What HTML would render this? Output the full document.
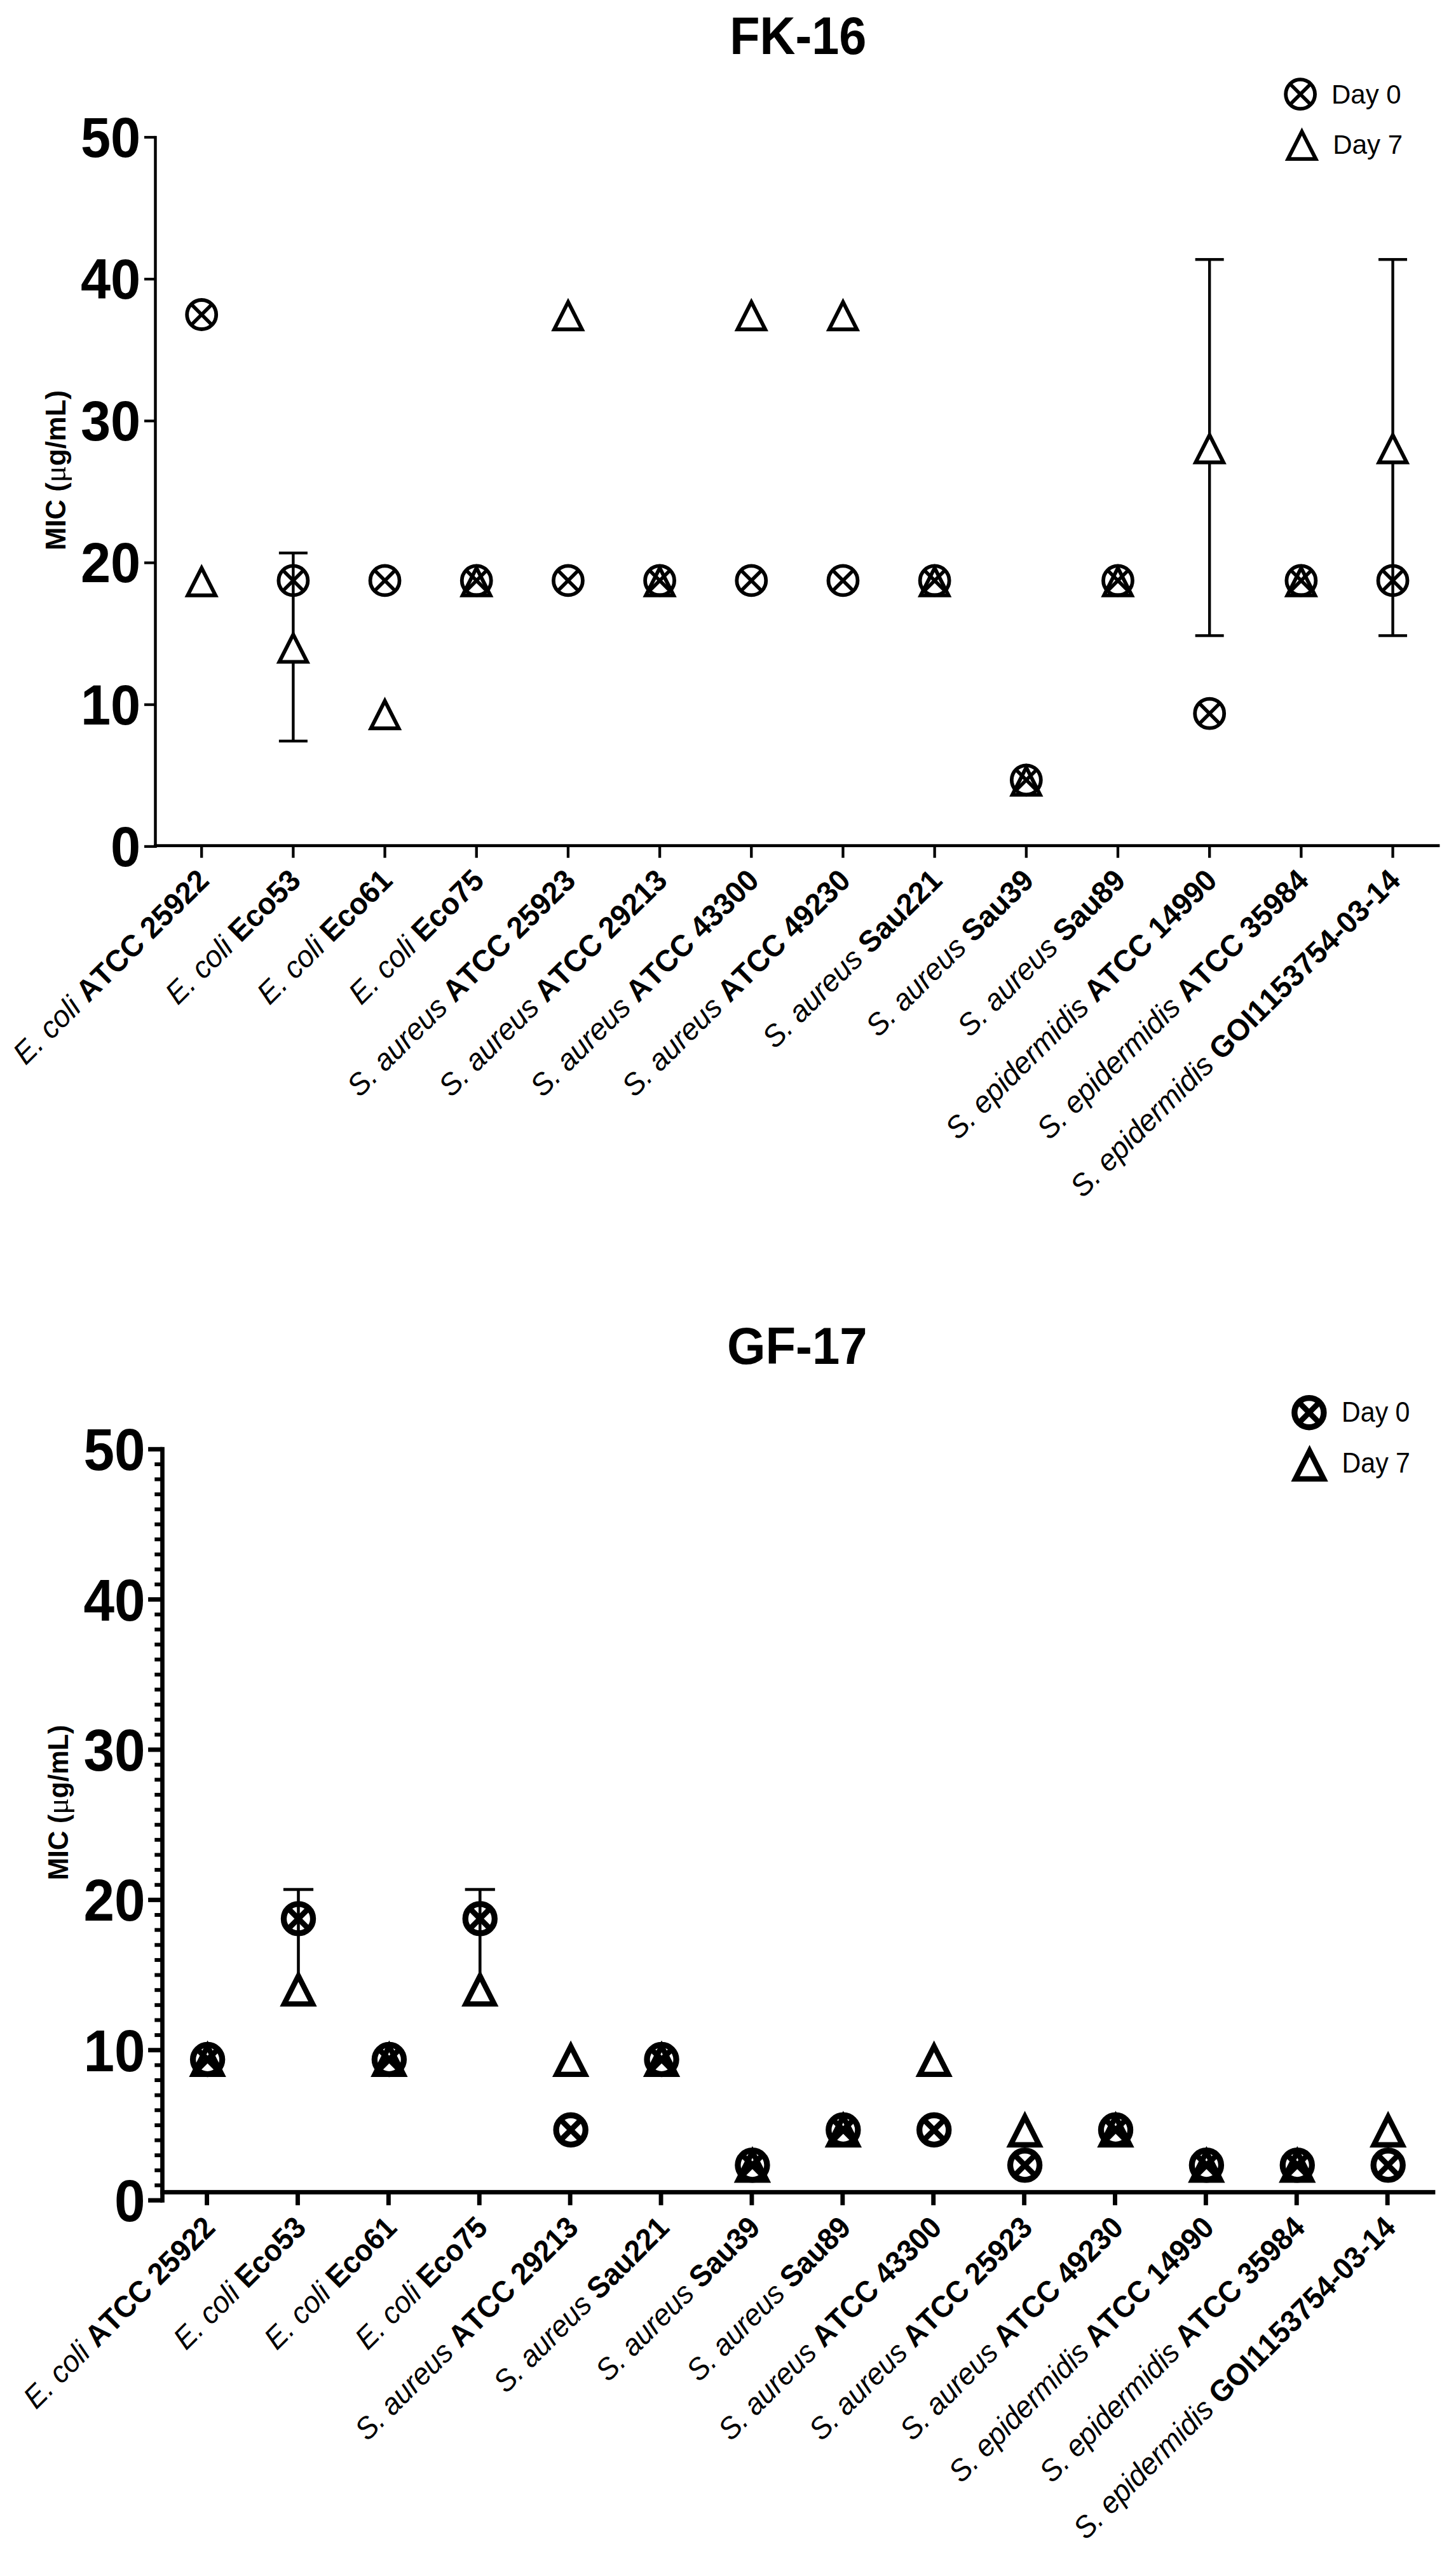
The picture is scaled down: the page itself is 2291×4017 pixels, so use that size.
<!DOCTYPE html>
<html><head><meta charset="utf-8"><title>MIC FK-16 / GF-17</title>
<style>html,body{margin:0;padding:0;background:#fff;}body{width:2291px;height:4017px;overflow:hidden;}svg{display:block;}text{font-kerning:none;}</style></head>
<body>
<svg width="2291" height="4017" viewBox="0 0 2291 4017" font-family='"Liberation Sans", sans-serif' fill="#000">
<rect x="242.25" y="213.90" width="4.50" height="1120.10" fill="#000"/>
<rect x="227.00" y="1329.80" width="17.50" height="4.20" fill="#000"/>
<text transform="translate(221.20 1362.80) scale(0.9820 1.0410)" font-size="86.30" text-anchor="end" font-weight="bold">0</text>
<rect x="227.00" y="1106.62" width="17.50" height="4.20" fill="#000"/>
<text transform="translate(221.20 1139.62) scale(0.9820 1.0410)" font-size="86.30" text-anchor="end" font-weight="bold">10</text>
<rect x="227.00" y="883.44" width="17.50" height="4.20" fill="#000"/>
<text transform="translate(221.20 916.44) scale(0.9820 1.0410)" font-size="86.30" text-anchor="end" font-weight="bold">20</text>
<rect x="227.00" y="660.26" width="17.50" height="4.20" fill="#000"/>
<text transform="translate(221.20 693.26) scale(0.9820 1.0410)" font-size="86.30" text-anchor="end" font-weight="bold">30</text>
<rect x="227.00" y="437.08" width="17.50" height="4.20" fill="#000"/>
<text transform="translate(221.20 470.08) scale(0.9820 1.0410)" font-size="86.30" text-anchor="end" font-weight="bold">40</text>
<rect x="227.00" y="213.90" width="17.50" height="4.20" fill="#000"/>
<text transform="translate(221.20 246.90) scale(0.9820 1.0410)" font-size="86.30" text-anchor="end" font-weight="bold">50</text>
<rect x="242.25" y="1328.25" width="2023.15" height="4.70" fill="#000"/>
<rect x="315.05" y="1330.60" width="4.30" height="19.10" fill="#000"/>
<text transform="translate(331.70 1388.30) rotate(-44.75) scale(1.0095 1.0410)" font-size="46.00" text-anchor="end"><tspan font-style="italic">E. coli</tspan> <tspan font-weight="bold">ATCC 25922</tspan></text>
<rect x="459.23" y="1330.60" width="4.30" height="19.10" fill="#000"/>
<text transform="translate(475.88 1388.30) rotate(-44.75) scale(1.0095 1.0410)" font-size="46.00" text-anchor="end"><tspan font-style="italic">E. coli</tspan> <tspan font-weight="bold">Eco53</tspan></text>
<rect x="603.41" y="1330.60" width="4.30" height="19.10" fill="#000"/>
<text transform="translate(620.06 1388.30) rotate(-44.75) scale(1.0095 1.0410)" font-size="46.00" text-anchor="end"><tspan font-style="italic">E. coli</tspan> <tspan font-weight="bold">Eco61</tspan></text>
<rect x="747.59" y="1330.60" width="4.30" height="19.10" fill="#000"/>
<text transform="translate(764.24 1388.30) rotate(-44.75) scale(1.0095 1.0410)" font-size="46.00" text-anchor="end"><tspan font-style="italic">E. coli</tspan> <tspan font-weight="bold">Eco75</tspan></text>
<rect x="891.77" y="1330.60" width="4.30" height="19.10" fill="#000"/>
<text transform="translate(908.42 1388.30) rotate(-44.75) scale(1.0095 1.0410)" font-size="46.00" text-anchor="end"><tspan font-style="italic">S. aureus</tspan> <tspan font-weight="bold">ATCC 25923</tspan></text>
<rect x="1035.95" y="1330.60" width="4.30" height="19.10" fill="#000"/>
<text transform="translate(1052.60 1388.30) rotate(-44.75) scale(1.0095 1.0410)" font-size="46.00" text-anchor="end"><tspan font-style="italic">S. aureus</tspan> <tspan font-weight="bold">ATCC 29213</tspan></text>
<rect x="1180.13" y="1330.60" width="4.30" height="19.10" fill="#000"/>
<text transform="translate(1196.78 1388.30) rotate(-44.75) scale(1.0095 1.0410)" font-size="46.00" text-anchor="end"><tspan font-style="italic">S. aureus</tspan> <tspan font-weight="bold">ATCC 43300</tspan></text>
<rect x="1324.31" y="1330.60" width="4.30" height="19.10" fill="#000"/>
<text transform="translate(1340.96 1388.30) rotate(-44.75) scale(1.0095 1.0410)" font-size="46.00" text-anchor="end"><tspan font-style="italic">S. aureus</tspan> <tspan font-weight="bold">ATCC 49230</tspan></text>
<rect x="1468.49" y="1330.60" width="4.30" height="19.10" fill="#000"/>
<text transform="translate(1485.14 1388.30) rotate(-44.75) scale(1.0095 1.0410)" font-size="46.00" text-anchor="end"><tspan font-style="italic">S. aureus</tspan> <tspan font-weight="bold">Sau221</tspan></text>
<rect x="1612.67" y="1330.60" width="4.30" height="19.10" fill="#000"/>
<text transform="translate(1629.32 1388.30) rotate(-44.75) scale(1.0095 1.0410)" font-size="46.00" text-anchor="end"><tspan font-style="italic">S. aureus</tspan> <tspan font-weight="bold">Sau39</tspan></text>
<rect x="1756.85" y="1330.60" width="4.30" height="19.10" fill="#000"/>
<text transform="translate(1773.50 1388.30) rotate(-44.75) scale(1.0095 1.0410)" font-size="46.00" text-anchor="end"><tspan font-style="italic">S. aureus</tspan> <tspan font-weight="bold">Sau89</tspan></text>
<rect x="1901.03" y="1330.60" width="4.30" height="19.10" fill="#000"/>
<text transform="translate(1917.68 1388.30) rotate(-44.75) scale(1.0095 1.0410)" font-size="46.00" text-anchor="end"><tspan font-style="italic">S. epidermidis</tspan> <tspan font-weight="bold">ATCC 14990</tspan></text>
<rect x="2045.21" y="1330.60" width="4.30" height="19.10" fill="#000"/>
<text transform="translate(2061.86 1388.30) rotate(-44.75) scale(1.0095 1.0410)" font-size="46.00" text-anchor="end"><tspan font-style="italic">S. epidermidis</tspan> <tspan font-weight="bold">ATCC 35984</tspan></text>
<rect x="2189.39" y="1330.60" width="4.30" height="19.10" fill="#000"/>
<text transform="translate(2206.04 1388.30) rotate(-44.75) scale(1.0095 1.0410)" font-size="46.00" text-anchor="end"><tspan font-style="italic">S. epidermidis</tspan> <tspan font-weight="bold">GOI1153754-03-14</tspan></text>
<text transform="translate(1255.75 85.20) scale(0.9695 1.0410)" font-size="79.90" text-anchor="middle" font-weight="bold">FK-16</text>
<text transform="translate(103.00 740.00) rotate(-90)" font-size="43.70" text-anchor="middle" font-weight="bold">MIC (<tspan font-weight="normal" font-size="48.94" font-family="&quot;Liberation Serif&quot;, serif">&#956;</tspan>g/mL)</text>
<circle cx="2046.10" cy="148.20" r="23.00" fill="none" stroke="#000" stroke-width="5.80"/><path d="M2029.84 131.94L2062.36 164.46M2029.84 164.46L2062.36 131.94" stroke="#000" stroke-width="5.60" fill="none"/>
<polygon points="2048.50,207.02 2070.39,250.15 2026.61,250.15" fill="none" stroke="#000" stroke-width="5.90" stroke-linejoin="miter" stroke-miterlimit="10"/>
<text transform="translate(2095.00 163.20)" font-size="42.00" text-anchor="start">Day 0</text>
<text transform="translate(2097.30 241.80)" font-size="42.00" text-anchor="start">Day 7</text>
<circle cx="317.20" cy="494.98" r="23.00" fill="none" stroke="#000" stroke-width="5.80"/><path d="M300.94 478.71L333.46 511.24M300.94 511.24L333.46 478.71" stroke="#000" stroke-width="5.60" fill="none"/>
<circle cx="461.38" cy="913.44" r="23.00" fill="none" stroke="#000" stroke-width="5.80"/><path d="M445.12 897.17L477.64 929.70M445.12 929.70L477.64 897.17" stroke="#000" stroke-width="5.60" fill="none"/>
<circle cx="605.56" cy="913.44" r="23.00" fill="none" stroke="#000" stroke-width="5.80"/><path d="M589.30 897.17L621.82 929.70M589.30 929.70L621.82 897.17" stroke="#000" stroke-width="5.60" fill="none"/>
<circle cx="749.74" cy="913.44" r="23.00" fill="none" stroke="#000" stroke-width="5.80"/><path d="M733.48 897.17L766.00 929.70M733.48 929.70L766.00 897.17" stroke="#000" stroke-width="5.60" fill="none"/>
<circle cx="893.92" cy="913.44" r="23.00" fill="none" stroke="#000" stroke-width="5.80"/><path d="M877.66 897.17L910.18 929.70M877.66 929.70L910.18 897.17" stroke="#000" stroke-width="5.60" fill="none"/>
<circle cx="1038.10" cy="913.44" r="23.00" fill="none" stroke="#000" stroke-width="5.80"/><path d="M1021.84 897.17L1054.36 929.70M1021.84 929.70L1054.36 897.17" stroke="#000" stroke-width="5.60" fill="none"/>
<circle cx="1182.28" cy="913.44" r="23.00" fill="none" stroke="#000" stroke-width="5.80"/><path d="M1166.02 897.17L1198.54 929.70M1166.02 929.70L1198.54 897.17" stroke="#000" stroke-width="5.60" fill="none"/>
<circle cx="1326.46" cy="913.44" r="23.00" fill="none" stroke="#000" stroke-width="5.80"/><path d="M1310.20 897.17L1342.72 929.70M1310.20 929.70L1342.72 897.17" stroke="#000" stroke-width="5.60" fill="none"/>
<circle cx="1470.64" cy="913.44" r="23.00" fill="none" stroke="#000" stroke-width="5.80"/><path d="M1454.38 897.17L1486.90 929.70M1454.38 929.70L1486.90 897.17" stroke="#000" stroke-width="5.60" fill="none"/>
<circle cx="1614.82" cy="1227.28" r="23.00" fill="none" stroke="#000" stroke-width="5.80"/><path d="M1598.56 1211.02L1631.08 1243.55M1598.56 1243.55L1631.08 1211.02" stroke="#000" stroke-width="5.60" fill="none"/>
<circle cx="1759.00" cy="913.44" r="23.00" fill="none" stroke="#000" stroke-width="5.80"/><path d="M1742.74 897.17L1775.26 929.70M1742.74 929.70L1775.26 897.17" stroke="#000" stroke-width="5.60" fill="none"/>
<circle cx="1903.18" cy="1122.67" r="23.00" fill="none" stroke="#000" stroke-width="5.80"/><path d="M1886.92 1106.41L1919.44 1138.93M1886.92 1138.93L1919.44 1106.41" stroke="#000" stroke-width="5.60" fill="none"/>
<circle cx="2047.36" cy="913.44" r="23.00" fill="none" stroke="#000" stroke-width="5.80"/><path d="M2031.10 897.17L2063.62 929.70M2031.10 929.70L2063.62 897.17" stroke="#000" stroke-width="5.60" fill="none"/>
<circle cx="2191.54" cy="913.44" r="23.00" fill="none" stroke="#000" stroke-width="5.80"/><path d="M2175.28 897.17L2207.80 929.70M2175.28 929.70L2207.80 897.17" stroke="#000" stroke-width="5.60" fill="none"/>
<polygon points="317.20,893.65 339.09,936.79 295.31,936.79" fill="none" stroke="#000" stroke-width="5.90" stroke-linejoin="miter" stroke-miterlimit="10"/>
<rect x="459.18" y="870.08" width="4.40" height="131.11" fill="#000"/>
<rect x="438.88" y="867.88" width="45.00" height="4.40" fill="#000"/>
<rect x="459.18" y="1043.35" width="4.40" height="122.67" fill="#000"/>
<rect x="438.88" y="1163.82" width="45.00" height="4.40" fill="#000"/>
<polygon points="461.38,998.27 483.27,1041.40 439.49,1041.40" fill="none" stroke="#000" stroke-width="5.90" stroke-linejoin="miter" stroke-miterlimit="10"/>
<polygon points="605.56,1102.89 627.45,1146.02 583.67,1146.02" fill="none" stroke="#000" stroke-width="5.90" stroke-linejoin="miter" stroke-miterlimit="10"/>
<polygon points="749.74,893.65 771.63,936.79 727.85,936.79" fill="none" stroke="#000" stroke-width="5.90" stroke-linejoin="miter" stroke-miterlimit="10"/>
<polygon points="893.92,475.19 915.81,518.32 872.03,518.32" fill="none" stroke="#000" stroke-width="5.90" stroke-linejoin="miter" stroke-miterlimit="10"/>
<polygon points="1038.10,893.65 1059.99,936.79 1016.21,936.79" fill="none" stroke="#000" stroke-width="5.90" stroke-linejoin="miter" stroke-miterlimit="10"/>
<polygon points="1182.28,475.19 1204.17,518.32 1160.39,518.32" fill="none" stroke="#000" stroke-width="5.90" stroke-linejoin="miter" stroke-miterlimit="10"/>
<polygon points="1326.46,475.19 1348.35,518.32 1304.57,518.32" fill="none" stroke="#000" stroke-width="5.90" stroke-linejoin="miter" stroke-miterlimit="10"/>
<polygon points="1470.64,893.65 1492.53,936.79 1448.75,936.79" fill="none" stroke="#000" stroke-width="5.90" stroke-linejoin="miter" stroke-miterlimit="10"/>
<polygon points="1614.82,1207.50 1636.71,1250.63 1592.93,1250.63" fill="none" stroke="#000" stroke-width="5.90" stroke-linejoin="miter" stroke-miterlimit="10"/>
<polygon points="1759.00,893.65 1780.89,936.79 1737.11,936.79" fill="none" stroke="#000" stroke-width="5.90" stroke-linejoin="miter" stroke-miterlimit="10"/>
<rect x="1900.98" y="408.27" width="4.40" height="279.08" fill="#000"/>
<rect x="1880.68" y="406.07" width="45.00" height="4.40" fill="#000"/>
<rect x="1900.98" y="729.51" width="4.40" height="270.64" fill="#000"/>
<rect x="1880.68" y="997.94" width="45.00" height="4.40" fill="#000"/>
<polygon points="1903.18,684.42 1925.07,727.56 1881.29,727.56" fill="none" stroke="#000" stroke-width="5.90" stroke-linejoin="miter" stroke-miterlimit="10"/>
<polygon points="2047.36,893.65 2069.25,936.79 2025.47,936.79" fill="none" stroke="#000" stroke-width="5.90" stroke-linejoin="miter" stroke-miterlimit="10"/>
<rect x="2189.34" y="408.27" width="4.40" height="279.08" fill="#000"/>
<rect x="2169.04" y="406.07" width="45.00" height="4.40" fill="#000"/>
<rect x="2189.34" y="729.51" width="4.40" height="270.64" fill="#000"/>
<rect x="2169.04" y="997.94" width="45.00" height="4.40" fill="#000"/>
<polygon points="2191.54,684.42 2213.43,727.56 2169.65,727.56" fill="none" stroke="#000" stroke-width="5.90" stroke-linejoin="miter" stroke-miterlimit="10"/>
<rect x="252.15" y="2276.80" width="6.70" height="1188.80" fill="#000"/>
<rect x="233.10" y="3458.60" width="22.40" height="7.00" fill="#000"/>
<text transform="translate(228.70 3495.10) scale(0.9850 1.0410)" font-size="88.70" text-anchor="end" font-weight="bold">0</text>
<rect x="233.10" y="3222.24" width="22.40" height="7.00" fill="#000"/>
<text transform="translate(228.70 3258.74) scale(0.9850 1.0410)" font-size="88.70" text-anchor="end" font-weight="bold">10</text>
<rect x="233.10" y="2985.88" width="22.40" height="7.00" fill="#000"/>
<text transform="translate(228.70 3022.38) scale(0.9850 1.0410)" font-size="88.70" text-anchor="end" font-weight="bold">20</text>
<rect x="233.10" y="2749.52" width="22.40" height="7.00" fill="#000"/>
<text transform="translate(228.70 2786.02) scale(0.9850 1.0410)" font-size="88.70" text-anchor="end" font-weight="bold">30</text>
<rect x="233.10" y="2513.16" width="22.40" height="7.00" fill="#000"/>
<text transform="translate(228.70 2549.66) scale(0.9850 1.0410)" font-size="88.70" text-anchor="end" font-weight="bold">40</text>
<rect x="233.10" y="2276.80" width="22.40" height="7.00" fill="#000"/>
<text transform="translate(228.70 2313.30) scale(0.9850 1.0410)" font-size="88.70" text-anchor="end" font-weight="bold">50</text>
<rect x="243.30" y="3435.46" width="12.20" height="6.00" fill="#000"/>
<rect x="243.30" y="3411.83" width="12.20" height="6.00" fill="#000"/>
<rect x="243.30" y="3388.19" width="12.20" height="6.00" fill="#000"/>
<rect x="243.30" y="3364.56" width="12.20" height="6.00" fill="#000"/>
<rect x="243.30" y="3340.92" width="12.20" height="6.00" fill="#000"/>
<rect x="243.30" y="3317.28" width="12.20" height="6.00" fill="#000"/>
<rect x="243.30" y="3293.65" width="12.20" height="6.00" fill="#000"/>
<rect x="243.30" y="3270.01" width="12.20" height="6.00" fill="#000"/>
<rect x="243.30" y="3246.38" width="12.20" height="6.00" fill="#000"/>
<rect x="243.30" y="3199.10" width="12.20" height="6.00" fill="#000"/>
<rect x="243.30" y="3175.47" width="12.20" height="6.00" fill="#000"/>
<rect x="243.30" y="3151.83" width="12.20" height="6.00" fill="#000"/>
<rect x="243.30" y="3128.20" width="12.20" height="6.00" fill="#000"/>
<rect x="243.30" y="3104.56" width="12.20" height="6.00" fill="#000"/>
<rect x="243.30" y="3080.92" width="12.20" height="6.00" fill="#000"/>
<rect x="243.30" y="3057.29" width="12.20" height="6.00" fill="#000"/>
<rect x="243.30" y="3033.65" width="12.20" height="6.00" fill="#000"/>
<rect x="243.30" y="3010.02" width="12.20" height="6.00" fill="#000"/>
<rect x="243.30" y="2962.74" width="12.20" height="6.00" fill="#000"/>
<rect x="243.30" y="2939.11" width="12.20" height="6.00" fill="#000"/>
<rect x="243.30" y="2915.47" width="12.20" height="6.00" fill="#000"/>
<rect x="243.30" y="2891.84" width="12.20" height="6.00" fill="#000"/>
<rect x="243.30" y="2868.20" width="12.20" height="6.00" fill="#000"/>
<rect x="243.30" y="2844.56" width="12.20" height="6.00" fill="#000"/>
<rect x="243.30" y="2820.93" width="12.20" height="6.00" fill="#000"/>
<rect x="243.30" y="2797.29" width="12.20" height="6.00" fill="#000"/>
<rect x="243.30" y="2773.66" width="12.20" height="6.00" fill="#000"/>
<rect x="243.30" y="2726.38" width="12.20" height="6.00" fill="#000"/>
<rect x="243.30" y="2702.75" width="12.20" height="6.00" fill="#000"/>
<rect x="243.30" y="2679.11" width="12.20" height="6.00" fill="#000"/>
<rect x="243.30" y="2655.48" width="12.20" height="6.00" fill="#000"/>
<rect x="243.30" y="2631.84" width="12.20" height="6.00" fill="#000"/>
<rect x="243.30" y="2608.20" width="12.20" height="6.00" fill="#000"/>
<rect x="243.30" y="2584.57" width="12.20" height="6.00" fill="#000"/>
<rect x="243.30" y="2560.93" width="12.20" height="6.00" fill="#000"/>
<rect x="243.30" y="2537.30" width="12.20" height="6.00" fill="#000"/>
<rect x="243.30" y="2490.02" width="12.20" height="6.00" fill="#000"/>
<rect x="243.30" y="2466.39" width="12.20" height="6.00" fill="#000"/>
<rect x="243.30" y="2442.75" width="12.20" height="6.00" fill="#000"/>
<rect x="243.30" y="2419.12" width="12.20" height="6.00" fill="#000"/>
<rect x="243.30" y="2395.48" width="12.20" height="6.00" fill="#000"/>
<rect x="243.30" y="2371.84" width="12.20" height="6.00" fill="#000"/>
<rect x="243.30" y="2348.21" width="12.20" height="6.00" fill="#000"/>
<rect x="243.30" y="2324.57" width="12.20" height="6.00" fill="#000"/>
<rect x="243.30" y="2300.94" width="12.20" height="6.00" fill="#000"/>
<rect x="252.15" y="3445.85" width="2006.25" height="6.90" fill="#000"/>
<rect x="322.15" y="3449.30" width="6.90" height="20.50" fill="#000"/>
<text transform="translate(341.20 3507.80) rotate(-45) scale(0.9894 1.0410)" font-size="46.00" text-anchor="end"><tspan font-style="italic">E. coli</tspan> <tspan font-weight="bold">ATCC 25922</tspan></text>
<rect x="465.04" y="3449.30" width="6.90" height="20.50" fill="#000"/>
<text transform="translate(484.09 3507.80) rotate(-45) scale(0.9894 1.0410)" font-size="46.00" text-anchor="end"><tspan font-style="italic">E. coli</tspan> <tspan font-weight="bold">Eco53</tspan></text>
<rect x="607.93" y="3449.30" width="6.90" height="20.50" fill="#000"/>
<text transform="translate(626.98 3507.80) rotate(-45) scale(0.9894 1.0410)" font-size="46.00" text-anchor="end"><tspan font-style="italic">E. coli</tspan> <tspan font-weight="bold">Eco61</tspan></text>
<rect x="750.82" y="3449.30" width="6.90" height="20.50" fill="#000"/>
<text transform="translate(769.87 3507.80) rotate(-45) scale(0.9894 1.0410)" font-size="46.00" text-anchor="end"><tspan font-style="italic">E. coli</tspan> <tspan font-weight="bold">Eco75</tspan></text>
<rect x="893.71" y="3449.30" width="6.90" height="20.50" fill="#000"/>
<text transform="translate(912.76 3507.80) rotate(-45) scale(0.9894 1.0410)" font-size="46.00" text-anchor="end"><tspan font-style="italic">S. aureus</tspan> <tspan font-weight="bold">ATCC 29213</tspan></text>
<rect x="1036.60" y="3449.30" width="6.90" height="20.50" fill="#000"/>
<text transform="translate(1055.65 3507.80) rotate(-45) scale(0.9894 1.0410)" font-size="46.00" text-anchor="end"><tspan font-style="italic">S. aureus</tspan> <tspan font-weight="bold">Sau221</tspan></text>
<rect x="1179.49" y="3449.30" width="6.90" height="20.50" fill="#000"/>
<text transform="translate(1198.54 3507.80) rotate(-45) scale(0.9894 1.0410)" font-size="46.00" text-anchor="end"><tspan font-style="italic">S. aureus</tspan> <tspan font-weight="bold">Sau39</tspan></text>
<rect x="1322.38" y="3449.30" width="6.90" height="20.50" fill="#000"/>
<text transform="translate(1341.43 3507.80) rotate(-45) scale(0.9894 1.0410)" font-size="46.00" text-anchor="end"><tspan font-style="italic">S. aureus</tspan> <tspan font-weight="bold">Sau89</tspan></text>
<rect x="1465.27" y="3449.30" width="6.90" height="20.50" fill="#000"/>
<text transform="translate(1484.32 3507.80) rotate(-45) scale(0.9894 1.0410)" font-size="46.00" text-anchor="end"><tspan font-style="italic">S. aureus</tspan> <tspan font-weight="bold">ATCC 43300</tspan></text>
<rect x="1608.16" y="3449.30" width="6.90" height="20.50" fill="#000"/>
<text transform="translate(1627.21 3507.80) rotate(-45) scale(0.9894 1.0410)" font-size="46.00" text-anchor="end"><tspan font-style="italic">S. aureus</tspan> <tspan font-weight="bold">ATCC 25923</tspan></text>
<rect x="1751.05" y="3449.30" width="6.90" height="20.50" fill="#000"/>
<text transform="translate(1770.10 3507.80) rotate(-45) scale(0.9894 1.0410)" font-size="46.00" text-anchor="end"><tspan font-style="italic">S. aureus</tspan> <tspan font-weight="bold">ATCC 49230</tspan></text>
<rect x="1893.94" y="3449.30" width="6.90" height="20.50" fill="#000"/>
<text transform="translate(1912.99 3507.80) rotate(-45) scale(0.9894 1.0410)" font-size="46.00" text-anchor="end"><tspan font-style="italic">S. epidermidis</tspan> <tspan font-weight="bold">ATCC 14990</tspan></text>
<rect x="2036.83" y="3449.30" width="6.90" height="20.50" fill="#000"/>
<text transform="translate(2055.88 3507.80) rotate(-45) scale(0.9894 1.0410)" font-size="46.00" text-anchor="end"><tspan font-style="italic">S. epidermidis</tspan> <tspan font-weight="bold">ATCC 35984</tspan></text>
<rect x="2179.72" y="3449.30" width="6.90" height="20.50" fill="#000"/>
<text transform="translate(2198.77 3507.80) rotate(-45) scale(0.9894 1.0410)" font-size="46.00" text-anchor="end"><tspan font-style="italic">S. epidermidis</tspan> <tspan font-weight="bold">GOI1153754-03-14</tspan></text>
<text transform="translate(1254.25 2145.90) scale(1.0000 1.0410)" font-size="77.90" text-anchor="middle" font-weight="bold">GF-17</text>
<text transform="translate(107.10 2836.25) rotate(-90) scale(0.9690 1.0000)" font-size="43.70" text-anchor="middle" font-weight="bold">MIC (<tspan font-weight="normal" font-size="48.94" font-family="&quot;Liberation Serif&quot;, serif">&#956;</tspan>g/mL)</text>
<circle cx="2059.90" cy="2222.70" r="23.05" fill="none" stroke="#000" stroke-width="9.30"/><path d="M2043.60 2206.40L2076.20 2239.00M2043.60 2239.00L2076.20 2206.40" stroke="#000" stroke-width="8.70" fill="none"/>
<polygon points="2060.60,2282.89 2082.96,2327.00 2038.24,2327.00" fill="none" stroke="#000" stroke-width="8.40" stroke-linejoin="miter" stroke-miterlimit="10"/>
<text transform="translate(2111.10 2237.10) scale(0.9790 1.0450)" font-size="42.00" text-anchor="start">Day 0</text>
<text transform="translate(2111.60 2317.20) scale(0.9790 1.0450)" font-size="42.00" text-anchor="start">Day 7</text>
<circle cx="326.60" cy="3240.51" r="23.05" fill="none" stroke="#000" stroke-width="9.30"/><path d="M310.30 3224.21L342.90 3256.81M310.30 3256.81L342.90 3224.21" stroke="#000" stroke-width="8.70" fill="none"/>
<circle cx="469.49" cy="3018.92" r="23.05" fill="none" stroke="#000" stroke-width="9.30"/><path d="M453.19 3002.63L485.79 3035.22M453.19 3035.22L485.79 3002.63" stroke="#000" stroke-width="8.70" fill="none"/>
<circle cx="612.38" cy="3240.51" r="23.05" fill="none" stroke="#000" stroke-width="9.30"/><path d="M596.08 3224.21L628.68 3256.81M596.08 3256.81L628.68 3224.21" stroke="#000" stroke-width="8.70" fill="none"/>
<circle cx="755.27" cy="3018.92" r="23.05" fill="none" stroke="#000" stroke-width="9.30"/><path d="M738.97 3002.63L771.57 3035.22M738.97 3035.22L771.57 3002.63" stroke="#000" stroke-width="8.70" fill="none"/>
<circle cx="898.16" cy="3351.31" r="23.05" fill="none" stroke="#000" stroke-width="9.30"/><path d="M881.86 3335.01L914.46 3367.61M881.86 3367.61L914.46 3335.01" stroke="#000" stroke-width="8.70" fill="none"/>
<circle cx="1041.05" cy="3240.51" r="23.05" fill="none" stroke="#000" stroke-width="9.30"/><path d="M1024.75 3224.21L1057.35 3256.81M1024.75 3256.81L1057.35 3224.21" stroke="#000" stroke-width="8.70" fill="none"/>
<circle cx="1183.94" cy="3406.79" r="23.05" fill="none" stroke="#000" stroke-width="9.30"/><path d="M1167.64 3390.49L1200.24 3423.09M1167.64 3423.09L1200.24 3390.49" stroke="#000" stroke-width="8.70" fill="none"/>
<circle cx="1326.83" cy="3351.31" r="23.05" fill="none" stroke="#000" stroke-width="9.30"/><path d="M1310.53 3335.01L1343.13 3367.61M1310.53 3367.61L1343.13 3335.01" stroke="#000" stroke-width="8.70" fill="none"/>
<circle cx="1469.72" cy="3351.31" r="23.05" fill="none" stroke="#000" stroke-width="9.30"/><path d="M1453.42 3335.01L1486.02 3367.61M1453.42 3367.61L1486.02 3335.01" stroke="#000" stroke-width="8.70" fill="none"/>
<circle cx="1612.61" cy="3406.79" r="23.05" fill="none" stroke="#000" stroke-width="9.30"/><path d="M1596.31 3390.49L1628.91 3423.09M1596.31 3423.09L1628.91 3390.49" stroke="#000" stroke-width="8.70" fill="none"/>
<circle cx="1755.50" cy="3351.31" r="23.05" fill="none" stroke="#000" stroke-width="9.30"/><path d="M1739.20 3335.01L1771.80 3367.61M1739.20 3367.61L1771.80 3335.01" stroke="#000" stroke-width="8.70" fill="none"/>
<circle cx="1898.39" cy="3406.79" r="23.05" fill="none" stroke="#000" stroke-width="9.30"/><path d="M1882.09 3390.49L1914.69 3423.09M1882.09 3423.09L1914.69 3390.49" stroke="#000" stroke-width="8.70" fill="none"/>
<circle cx="2041.28" cy="3406.79" r="23.05" fill="none" stroke="#000" stroke-width="9.30"/><path d="M2024.98 3390.49L2057.58 3423.09M2024.98 3423.09L2057.58 3390.49" stroke="#000" stroke-width="8.70" fill="none"/>
<circle cx="2184.17" cy="3406.79" r="23.05" fill="none" stroke="#000" stroke-width="9.30"/><path d="M2167.87 3390.49L2200.47 3423.09M2167.87 3423.09L2200.47 3390.49" stroke="#000" stroke-width="8.70" fill="none"/>
<polygon points="326.60,3219.80 348.96,3263.91 304.24,3263.91" fill="none" stroke="#000" stroke-width="8.40" stroke-linejoin="miter" stroke-miterlimit="10"/>
<rect x="467.19" y="2972.99" width="4.60" height="140.16" fill="#000"/>
<rect x="445.89" y="2970.69" width="47.20" height="4.60" fill="#000"/>
<polygon points="469.49,3109.01 491.85,3153.12 447.13,3153.12" fill="none" stroke="#000" stroke-width="8.40" stroke-linejoin="miter" stroke-miterlimit="10"/>
<polygon points="612.38,3219.80 634.74,3263.91 590.02,3263.91" fill="none" stroke="#000" stroke-width="8.40" stroke-linejoin="miter" stroke-miterlimit="10"/>
<rect x="752.97" y="2972.99" width="4.60" height="140.16" fill="#000"/>
<rect x="731.67" y="2970.69" width="47.20" height="4.60" fill="#000"/>
<polygon points="755.27,3109.01 777.63,3153.12 732.91,3153.12" fill="none" stroke="#000" stroke-width="8.40" stroke-linejoin="miter" stroke-miterlimit="10"/>
<polygon points="898.16,3219.80 920.52,3263.91 875.80,3263.91" fill="none" stroke="#000" stroke-width="8.40" stroke-linejoin="miter" stroke-miterlimit="10"/>
<polygon points="1041.05,3219.80 1063.41,3263.91 1018.69,3263.91" fill="none" stroke="#000" stroke-width="8.40" stroke-linejoin="miter" stroke-miterlimit="10"/>
<polygon points="1183.94,3386.08 1206.30,3430.19 1161.58,3430.19" fill="none" stroke="#000" stroke-width="8.40" stroke-linejoin="miter" stroke-miterlimit="10"/>
<polygon points="1326.83,3330.59 1349.19,3374.71 1304.47,3374.71" fill="none" stroke="#000" stroke-width="8.40" stroke-linejoin="miter" stroke-miterlimit="10"/>
<polygon points="1469.72,3219.80 1492.08,3263.91 1447.36,3263.91" fill="none" stroke="#000" stroke-width="8.40" stroke-linejoin="miter" stroke-miterlimit="10"/>
<polygon points="1612.61,3330.59 1634.97,3374.71 1590.25,3374.71" fill="none" stroke="#000" stroke-width="8.40" stroke-linejoin="miter" stroke-miterlimit="10"/>
<polygon points="1755.50,3330.59 1777.86,3374.71 1733.14,3374.71" fill="none" stroke="#000" stroke-width="8.40" stroke-linejoin="miter" stroke-miterlimit="10"/>
<polygon points="1898.39,3386.08 1920.75,3430.19 1876.03,3430.19" fill="none" stroke="#000" stroke-width="8.40" stroke-linejoin="miter" stroke-miterlimit="10"/>
<polygon points="2041.28,3386.08 2063.64,3430.19 2018.92,3430.19" fill="none" stroke="#000" stroke-width="8.40" stroke-linejoin="miter" stroke-miterlimit="10"/>
<polygon points="2184.17,3330.59 2206.53,3374.71 2161.81,3374.71" fill="none" stroke="#000" stroke-width="8.40" stroke-linejoin="miter" stroke-miterlimit="10"/>
</svg>
</body></html>
